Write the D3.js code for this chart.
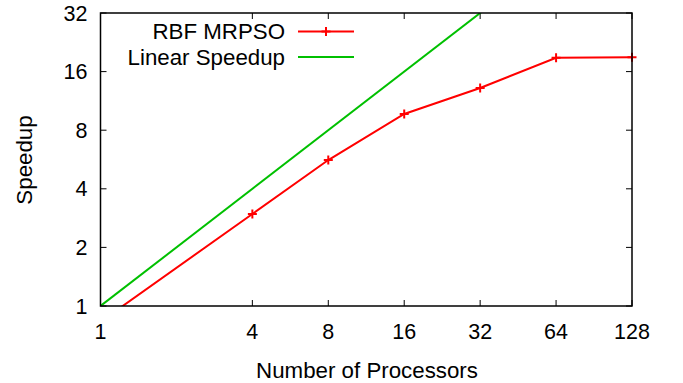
<!DOCTYPE html>
<html><head><meta charset="utf-8">
<script src="https://cdn.jsdelivr.net/npm/d3@7"></script>
<style>body{margin:0;background:#fff}svg{display:block}text{font-family:"Liberation Sans",Arial,sans-serif;fill:#000}</style>
</head><body>
<script>
const processors = [1, 4, 8, 16, 32, 64, 128];
const rbfSpeedup = [0.83, 2.97, 5.62, 9.69, 13.18, 18.86, 18.95];
const linearX = [1, 128];
const xTicks = [1, 4, 8, 16, 32, 64, 128];
const yTicks = [1, 2, 4, 8, 16, 32];
const seriesNames = ["RBF MRPSO", "Linear Speedup"];
const colors = ["#ff0000", "#00c000"];

const W = 683, H = 383;
const L = 100.5, R = 632, T = 13, B = 306;
const svg = d3.select("body").append("svg").attr("width", W).attr("height", H);
const x = d3.scaleLog().base(2).domain([1, 128]).range([L, R]);
const y = d3.scaleLog().base(2).domain([1, 32]).range([B, T]);
const fs = 21.5, fsT = 22.3;

svg.append("clipPath").attr("id", "clip").append("rect")
  .attr("x", L).attr("y", T).attr("width", R - L).attr("height", B - T);

// ticks (inward, mirrored)
const tl = 6;
const tg = svg.append("g").attr("stroke", "#000").attr("stroke-width", 1);
xTicks.forEach(v => {
  tg.append("line").attr("x1", x(v)).attr("x2", x(v)).attr("y1", B).attr("y2", B - tl);
  tg.append("line").attr("x1", x(v)).attr("x2", x(v)).attr("y1", T).attr("y2", T + tl);
});
yTicks.forEach(v => {
  tg.append("line").attr("x1", L).attr("x2", L + tl).attr("y1", y(v)).attr("y2", y(v));
  tg.append("line").attr("x1", R).attr("x2", R - tl).attr("y1", y(v)).attr("y2", y(v));
});

// tick labels
xTicks.forEach(v => {
  svg.append("text").attr("x", x(v)).attr("y", 338.5).attr("text-anchor", "middle")
    .attr("font-size", fs).text(v);
});
yTicks.forEach(v => {
  svg.append("text").attr("x", 87.5).attr("y", y(v) + 7.5).attr("text-anchor", "end")
    .attr("font-size", fs).text(v);
});

// axis titles
svg.append("text").attr("x", 367).attr("y", 378).attr("text-anchor", "middle")
  .attr("font-size", fsT).text("Number of Processors");
svg.append("text").attr("transform", "translate(32,160) rotate(-90)")
  .attr("text-anchor", "middle").attr("font-size", fsT).text("Speedup");

// data
const plot = svg.append("g").attr("clip-path", "url(#clip)");
const line = d3.line().x(d => x(d[0])).y(d => y(d[1]));
plot.append("path").datum(linearX.map(v => [v, v]))
  .attr("d", line).attr("fill", "none").attr("stroke", colors[1]).attr("stroke-width", 2);
const rbf = processors.map((p, i) => [p, rbfSpeedup[i]]);
plot.append("path").datum(rbf)
  .attr("d", line).attr("fill", "none").attr("stroke", colors[0]).attr("stroke-width", 2);

function plus(g, cx, cy, c) {
  const s = 4.5;
  g.append("path").attr("d", `M${cx - s},${cy}H${cx + s}M${cx},${cy - s}V${cy + s}`)
    .attr("stroke", c).attr("stroke-width", 2).attr("fill", "none");
}
const mk = svg.append("g");
rbf.forEach(d => { if (d[1] >= 1) plus(mk, x(d[0]), y(d[1]), colors[0]); });

// frame
svg.append("rect").attr("x", L).attr("y", T).attr("width", R - L).attr("height", B - T)
  .attr("fill", "none").attr("stroke", "#000").attr("stroke-width", 1.5);

// legend
const lg = svg.append("g");
const ly = [31.5, 57];
seriesNames.forEach((n, i) => {
  lg.append("text").attr("x", 285).attr("y", ly[i] + 7.8).attr("text-anchor", "end")
    .attr("font-size", fsT).text(n);
  lg.append("line").attr("x1", 298).attr("x2", 354).attr("y1", ly[i]).attr("y2", ly[i])
    .attr("stroke", colors[i]).attr("stroke-width", 2);
  if (i === 0) plus(lg, 326, ly[i], colors[i]);
});
</script>
</body></html>
